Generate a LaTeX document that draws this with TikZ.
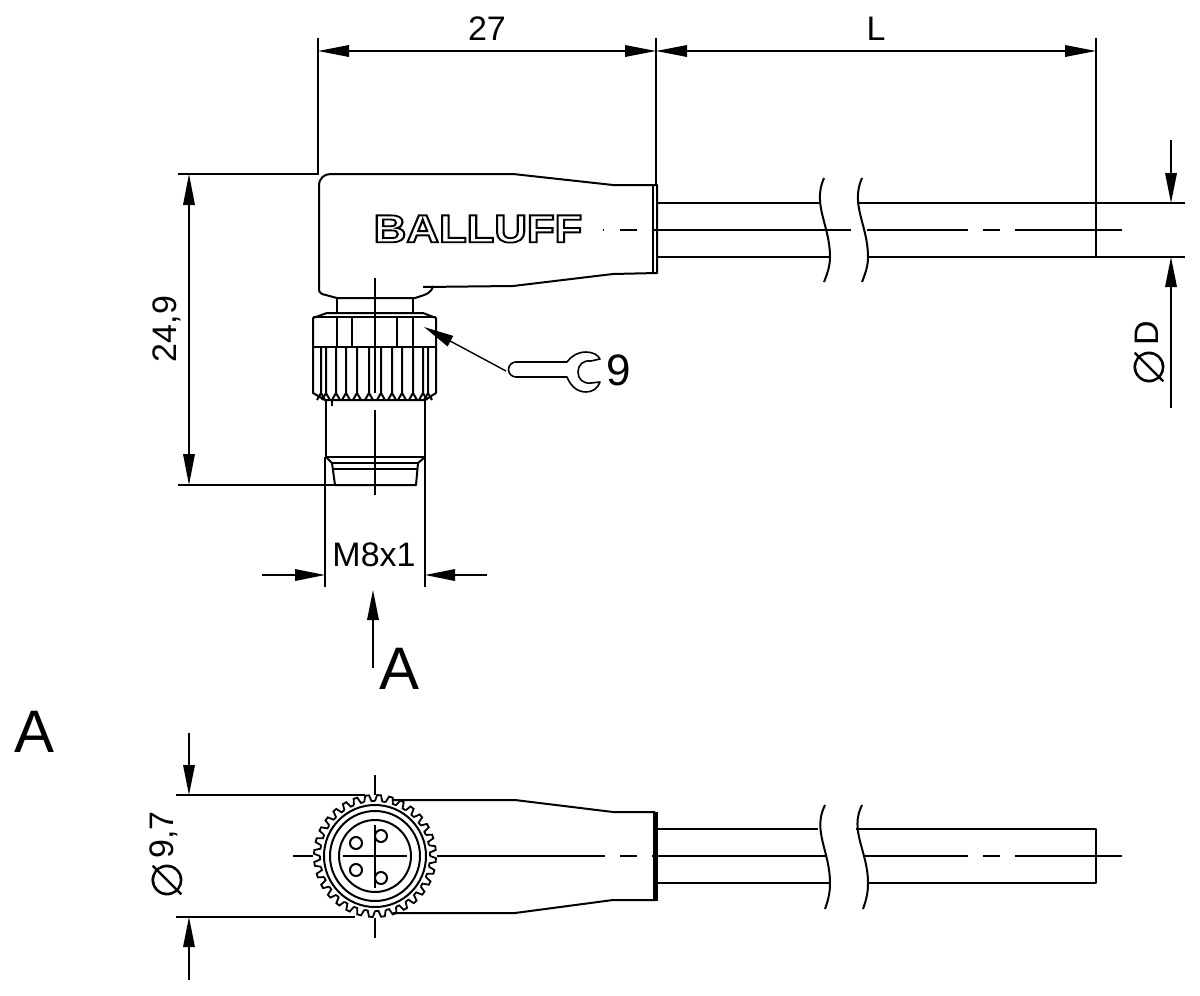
\documentclass[tikz,border=0pt]{standalone}
\usepackage{fontspec}
\setmainfont{Liberation Sans}
\newfontfamily\symfont{DejaVu Sans}
\newcommand{\thinphi}{\special{pdf:code 2 Tr 1 1 1 RG 0.75 w}⌀\special{pdf:code 0 Tr 0 0 0 RG 0.4 w}}
\usetikzlibrary{arrows.meta}
\tikzset{
  outline/.style={line width=1pt,line join=round},
  thin line/.style={line width=0.7pt},
  dimline/.style={line width=0.7pt,{Triangle[length=15.5pt,width=5.8pt]}-{Triangle[length=15.5pt,width=5.8pt]}},
  dimtip/.style={line width=0.7pt,-{Triangle[length=15pt,width=5.8pt]}},
  dimtext/.style={inner sep=0pt,font=\fontsize{17}{18}\selectfont},
  dimphi/.style={inner sep=0pt,rotate=90,font=\symfont\fontsize{31}{31}\selectfont},
  bigtext/.style={inner sep=0pt,font=\fontsize{30}{31}\selectfont}
}
\begin{document}
\begin{tikzpicture}[x=0.5pt,y=-0.5pt]
  \useasboundingbox (0,0) rectangle (1200,996);
  % dimensions on top
  \coordinate (bodyleft) at (318,51);
  \coordinate (bodyright) at (656,51);
  \coordinate (cableend) at (1096,51);
  \draw[thin line] (318,38) -- (318,174);
  \draw[thin line] (656,38) -- (656,186);
  \draw[thin line] (1096,38) -- (1096,203);
  \draw[dimline] (bodyleft) -- (bodyright) node[midway,above=5pt,dimtext] (dimbody) {27};
  \draw[dimline] (bodyright) -- (cableend) node[midway,above=5pt,dimtext] (dimcable) {L};
  % side view, housing
  \draw[outline] (319,186) .. controls (319,178) and (324,174) .. (331,174) -- (513,174) -- (613,185) -- (657,185) -- (657,273)
    -- (613,274) -- (513,286) -- (423,287);
  \draw[outline] (433,286) .. controls (431,293) and (428,294) .. (415,298) -- (337,298) -- (322,294)
    .. controls (319,293) and (319,291) .. (319,288) -- (319,186);
  \draw[outline] (653,185) -- (653,273);
  \node[inner sep=0pt,font=\bfseries\fontsize{19.5}{20}\selectfont,xscale=1.16] (brand) at (478,229)
    {\special{pdf:code 1 Tr 0.9 w}BALLUFF\special{pdf:code 0 Tr}};
  % neck and nut
  \draw[outline] (337,298) -- (337,313) (413,298) -- (413,313);
  \draw[outline] (313,347) -- (313,318) -- (327,313) -- (423,313) -- (436,318) -- (436,347);
  \draw[outline] (313,317) -- (436,317);
  \draw[outline] (313,347) -- (436,347);
  \foreach \x in {337,352,397,413} \draw[outline] (\x,317) -- (\x,347);
  \draw[outline] (313,347) -- (313,393) -- (325,400) -- (425,400) -- (436,393) -- (436,347);
  \foreach \x in {321,326,336,346,357,369,381,392,402,413,423,428}
    \draw[outline] (\x,347) -- (\x,393) (\x-4,400) -- (\x,393) -- (\x+4,400);
  % plug
  \draw[outline] (326,400) -- (326,457) -- (425,457) -- (425,400);
  \draw[outline] (332,400) -- (332,406);
  \draw[outline] (326,457) -- (332,463) -- (335,485) -- (416,485) -- (418,463) -- (425,457);
  \draw[outline] (332,463) -- (418,463) (332,469) -- (418,469);
  \draw[thin line] (375,278) -- (375,393) (375,410) -- (375,495);
  % cable
  \draw[outline] (657,203) -- (819,203) (857,203) -- (1096,203) -- (1096,257) -- (868,257) (830,257) -- (657,257);
  \draw[outline] (824,178) .. controls (812,205) and (830,225) .. (830,257) .. controls (830,265) and (828,272) .. (824,282);
  \draw[outline] (862,178) .. controls (850,205) and (868,225) .. (868,257) .. controls (868,265) and (866,272) .. (862,282);
  \draw[thin line] (603,230) -- (604,230) (620,230) -- (637,230) (652,230) -- (851,230) (867,230) -- (968,230) (983,230) -- (1000,230) (1015,230) -- (1122,230);
  % dimension D
  \coordinate (cabletop) at (1171,203);
  \coordinate (cablebot) at (1171,257);
  \draw[thin line] (1096,203) -- (1185,203) (1096,257) -- (1185,257);
  \draw[dimtip] (1171,140) -- (cabletop);
  \draw[dimtip] (1171,408) -- (cablebot);
  \node[dimtext,rotate=90] (dimd) at (1147,333) {D};
  \node[dimphi] (phid) at (1149,367) {\thinphi};
  % dimension 24,9
  \coordinate (heighttop) at (189,174);
  \coordinate (heightbot) at (189,485);
  \draw[thin line] (178,174) -- (319,174) (178,485) -- (335,485);
  \draw[dimline] (heighttop) -- (heightbot);
  \node[dimtext,rotate=90] (dimheight) at (167,329) {24,9};
  % dimension M8x1
  \coordinate (threadleft) at (325,575);
  \coordinate (threadright) at (425,575);
  \draw[thin line] (325,457) -- (325,587) (425,457) -- (425,587);
  \draw[dimtip] (262,575) -- (threadleft);
  \draw[dimtip] (487,575) -- (threadright);
  \node[dimtext] (dimthread) at (374,555) {M8x1};
  % view arrow
  \coordinate (viewtip) at (373,590);
  \draw[dimtip] (373,668) -- (viewtip);
  \node[bigtext] (viewa) at (400,669) {A};
  \node[bigtext] (labela) at (35,732) {A};
  % wrench
  \coordinate (wrenchtip) at (424,327);
  \coordinate (wrenchtail) at (506,371);
  \draw[dimtip] (wrenchtail) -- (wrenchtip);
  \draw[line width=0.8pt,line join=round] (567,362) -- (516,362) arc (270:90:7.5) -- (567,377)
    .. controls (571,387) and (578,392) .. (586,392) .. controls (593,392) and (598,388) .. (600,382) -- (591,383)
    .. controls (583,384) and (578,379) .. (578,372) .. controls (578,365) and (583,360) .. (591,361)
    -- (600,359) .. controls (598,355) and (593,352) .. (586,352) .. controls (578,352) and (571,356) .. (567,362);
  \node[inner sep=0pt,font=\fontsize{22}{23}\selectfont] (wrenchsize) at (618.5,370) {9};
  % view A, knurled nut
  \begin{scope}[shift={(375,856)}]
    \foreach \a in {0,11.25,...,349}
      \draw[line width=0.9pt] (\a:55) -- (\a+2:61) -- (\a+5.6:61) -- (\a+7.6:55) -- (\a+11.25:55);
    \foreach \r in {51,45,36} \draw[outline] (0,0) circle (\r);
    \draw[outline] (-19,-13) circle (6) (-19,14) circle (6) (6,-20) circle (6) (6,22) circle (6);
    \draw[thin line] (-32,0) -- (32,0) (0,-31) -- (0,32);
  \end{scope}
  % view A, housing and cable
  \draw[outline] (393,800) -- (515,800) -- (613,812) -- (655,812) (655,900) -- (613,900) -- (515,913) -- (393,913);
  \draw[line width=2.2pt] (655.5,811.5) -- (655.5,900.5);
  \draw[outline] (657,829) -- (818,829) (856,829) -- (1096,829) -- (1096,883) -- (868,883) (830,883) -- (657,883);
  \draw[outline] (825,805) .. controls (812,831) and (830,851) .. (830,883) .. controls (830,891) and (829,898) .. (825,909);
  \draw[outline] (862,805) .. controls (849,831) and (868,851) .. (868,883) .. controls (868,891) and (867,898) .. (863,909);
  \draw[thin line] (293,856) -- (313,856) (437,856) -- (605,856) (620,856) -- (637,856) (652,856) -- (826,856) (863,856) -- (968,856) (983,856) -- (1000,856) (1015,856) -- (1122,856);
  \draw[thin line] (375,775) -- (375,795) (375,918) -- (375,938);
  % dimension 9,7
  \coordinate (nuttop) at (189,795);
  \coordinate (nutbot) at (189,917);
  \draw[thin line] (176,795) -- (365,795) (176,917) -- (355,917);
  \draw[dimtip] (189,733) -- (nuttop);
  \draw[dimtip] (189,980) -- (nutbot);
  \node[dimtext,rotate=90] (dimnut) at (164,835) {9,7};
  \node[dimphi] (phinut) at (167,880) {\thinphi};
\end{tikzpicture}
\end{document}
